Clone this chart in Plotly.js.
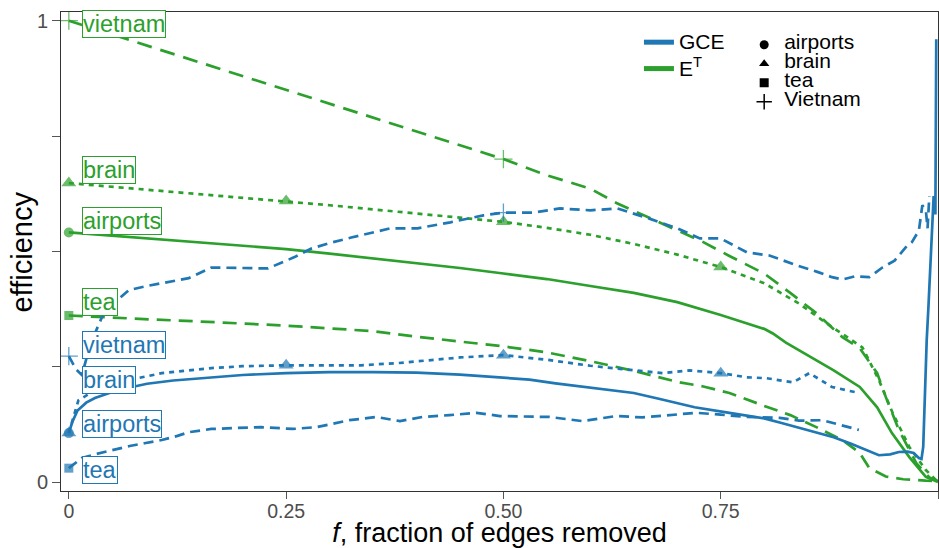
<!DOCTYPE html>
<html><head><meta charset="utf-8">
<script src="https://cdn.plot.ly/plotly-3.0.1.min.js"></script>
<style>html,body{margin:0;padding:0;background:#fff}#chart{width:939px;height:548px}</style>
</head><body><div id="chart"></div>
<script>
// ---------- data ----------
const networks = ['airports', 'brain', 'tea', 'vietnam'];
const labelNames = {airports: 'airports', brain: 'brain', tea: 'tea', vietnam: 'vietnam'};
const legendShapeNames = ['airports', 'brain', 'tea', 'Vietnam'];

// E^T (green)
const etAirportsX = [0, 0.05, 0.1, 0.15, 0.2, 0.25, 0.3, 0.35, 0.4, 0.45, 0.5, 0.55, 0.6, 0.65, 0.7, 0.75, 0.8, 0.81, 0.825, 0.84, 0.88, 0.91, 0.93, 0.947, 0.967, 0.986, 1];
const etAirportsY = [0.541, 0.534, 0.527, 0.52, 0.512, 0.505, 0.495, 0.485, 0.475, 0.464, 0.452, 0.44, 0.425, 0.41, 0.39, 0.362, 0.332, 0.322, 0.302, 0.286, 0.242, 0.206, 0.162, 0.106, 0.054, 0.011, 0.0];

const etBrainX = [0, 0.05, 0.1, 0.15, 0.2, 0.25, 0.3, 0.35, 0.4, 0.45, 0.5, 0.55, 0.6, 0.65, 0.7, 0.75, 0.8, 0.84, 0.878, 0.913, 0.932, 0.948, 0.967, 0.986, 1];
const etBrainY = [0.648, 0.640, 0.632, 0.624, 0.617, 0.609, 0.600, 0.591, 0.582, 0.573, 0.564, 0.551, 0.536, 0.516, 0.493, 0.466, 0.431, 0.387, 0.336, 0.292, 0.221, 0.149, 0.076, 0.026, 0.0];

const etTeaX = [0, 0.05, 0.1, 0.15, 0.2, 0.25, 0.3, 0.35, 0.4, 0.45, 0.5, 0.55, 0.6, 0.65, 0.7, 0.73, 0.76, 0.8, 0.83, 0.86, 0.89, 0.91, 0.921, 0.94, 0.96, 0.986, 1];
const etTeaY = [0.361, 0.356, 0.352, 0.348, 0.344, 0.339, 0.333, 0.327, 0.315, 0.305, 0.294, 0.281, 0.262, 0.241, 0.217, 0.207, 0.193, 0.165, 0.145, 0.119, 0.091, 0.063, 0.03, 0.012, 0.006, 0.003, 0.002];

const etVietnamX = [0, 0.05, 0.1, 0.15, 0.2, 0.25, 0.3, 0.35, 0.4, 0.45, 0.5, 0.55, 0.6, 0.63, 0.66, 0.7, 0.73, 0.76, 0.8, 0.83, 0.86, 0.89, 0.91, 0.93, 0.94, 0.955, 0.975, 0.99, 1];
const etVietnamY = [1.0, 0.97, 0.94, 0.91, 0.88, 0.85, 0.82, 0.79, 0.76, 0.73, 0.70, 0.665, 0.636, 0.605, 0.58, 0.545, 0.52, 0.49, 0.452, 0.41, 0.366, 0.314, 0.29, 0.236, 0.184, 0.113, 0.041, 0.01, 0.002];

// GCE (blue)
const gceAirportsX = [0, 0.004, 0.01, 0.02, 0.03, 0.05, 0.07, 0.09, 0.12, 0.15, 0.2, 0.25, 0.3, 0.35, 0.4, 0.45, 0.5, 0.53, 0.56, 0.59, 0.62, 0.65, 0.68, 0.72, 0.76, 0.8, 0.82, 0.85, 0.88, 0.9, 0.917, 0.932, 0.945, 0.955, 0.965, 0.972, 0.978, 0.981, 0.983, 0.985, 0.987, 0.989, 0.991, 0.993, 0.995, 0.997, 0.998];
const gceAirportsY = [0.106, 0.13, 0.155, 0.172, 0.182, 0.195, 0.205, 0.213, 0.22, 0.225, 0.232, 0.236, 0.238, 0.238, 0.237, 0.233, 0.227, 0.222, 0.214, 0.207, 0.2, 0.193, 0.18, 0.162, 0.15, 0.138, 0.128, 0.113, 0.097, 0.083, 0.069, 0.058, 0.06, 0.065, 0.066, 0.063, 0.052, 0.05, 0.076, 0.221, 0.307, 0.38, 0.47, 0.54, 0.62, 0.58, 0.96];

const gceBrainX = [0, 0.011, 0.03, 0.05, 0.069, 0.107, 0.164, 0.2, 0.25, 0.3, 0.336, 0.38, 0.413, 0.45, 0.5, 0.55, 0.6, 0.626, 0.683, 0.714, 0.75, 0.78, 0.803, 0.833, 0.852, 0.878, 0.909];
const gceBrainY = [0.106, 0.177, 0.199, 0.21, 0.221, 0.236, 0.247, 0.251, 0.253, 0.253, 0.253, 0.258, 0.264, 0.27, 0.275, 0.265, 0.252, 0.247, 0.236, 0.242, 0.236, 0.227, 0.225, 0.216, 0.236, 0.206, 0.193];

const gceTeaX = [0, 0.015, 0.03, 0.049, 0.07, 0.087, 0.107, 0.125, 0.138, 0.164, 0.19, 0.221, 0.258, 0.285, 0.323, 0.354, 0.381, 0.407, 0.438, 0.469, 0.496, 0.553, 0.591, 0.63, 0.66, 0.687, 0.722, 0.75, 0.78, 0.818, 0.84, 0.867, 0.89, 0.909];
const gceTeaY = [0.030, 0.052, 0.06, 0.069, 0.078, 0.084, 0.091, 0.1, 0.108, 0.115, 0.117, 0.119, 0.115, 0.119, 0.134, 0.141, 0.132, 0.141, 0.145, 0.15, 0.143, 0.141, 0.132, 0.143, 0.14, 0.145, 0.15, 0.146, 0.141, 0.139, 0.133, 0.134, 0.122, 0.113];

const gceVietnamX = [0, 0.008, 0.015, 0.025, 0.03, 0.038, 0.05, 0.069, 0.09, 0.107, 0.138, 0.164, 0.202, 0.229, 0.259, 0.279, 0.298, 0.325, 0.37, 0.401, 0.439, 0.477, 0.5, 0.535, 0.565, 0.6, 0.631, 0.668, 0.7, 0.726, 0.75, 0.78, 0.806, 0.837, 0.862, 0.878, 0.89, 0.905, 0.921, 0.936, 0.95, 0.963, 0.97, 0.978, 0.982, 0.986, 0.988, 0.99];
const gceVietnamY = [0.273, 0.245, 0.232, 0.3, 0.322, 0.357, 0.385, 0.416, 0.425, 0.431, 0.442, 0.465, 0.463, 0.463, 0.487, 0.506, 0.517, 0.530, 0.550, 0.550, 0.563, 0.578, 0.584, 0.584, 0.593, 0.589, 0.593, 0.571, 0.55, 0.528, 0.528, 0.498, 0.491, 0.470, 0.455, 0.444, 0.439, 0.446, 0.444, 0.465, 0.48, 0.509, 0.52, 0.545, 0.6, 0.589, 0.55, 0.62];

// x positions where each network carries its shape marker
const markerAt = {airports: [0], brain: [0, 0.25, 0.5, 0.75], tea: [0], vietnam: [0, 0.5]};

// ---------- styles ----------
const BLUE = '#1f77b4', GREEN = '#2ca02c';
const FONT = 'Liberation Sans, Arial, sans-serif';
const symbolOf = {airports: 'circle', brain: 'triangle-up', tea: 'square', vietnam: 'cross-thin-open'};
const sizeOf = {airports: 10, brain: 13, tea: 9, vietnam: 13};
const dashOf = {
  et: {airports: 'solid', brain: '5px,5px', tea: '14px,8px', vietnam: '15px,9px'},
  gce: {airports: 'solid', brain: '5px,5px', tea: '10px,6px', vietnam: '10px,6px'}
};

const series = {
  et: {airports: [etAirportsX, etAirportsY], brain: [etBrainX, etBrainY], tea: [etTeaX, etTeaY], vietnam: [etVietnamX, etVietnamY]},
  gce: {airports: [gceAirportsX, gceAirportsY], brain: [gceBrainX, gceBrainY], tea: [gceTeaX, gceTeaY], vietnam: [gceVietnamX, gceVietnamY]}
};

const traces = [];
['et', 'gce'].forEach(m => {
  const color = m === 'et' ? GREEN : BLUE;
  networks.forEach(n => {
    const [x, y] = series[m][n];
    const sizes = x.map(v => markerAt[n].includes(v) ? sizeOf[n] : 0);
    traces.push({
      type: 'scatter', mode: 'lines+markers', x: x, y: y, showlegend: false, hoverinfo: 'skip',
      line: {color: color, width: 2.7, dash: dashOf[m][n]},
      marker: {color: color, size: sizes, symbol: symbolOf[n], line: {color: color, width: n === 'vietnam' ? 1.3 : 0}}
    });
  });
});

// legend entries (colour)
traces.push({type: 'scatter', mode: 'lines', x: [null], y: [null], name: '<span style="font-size:21px">GCE</span>',
  line: {color: BLUE, width: 5}, legend: 'legend', showlegend: true});
traces.push({type: 'scatter', mode: 'lines', x: [null], y: [null], name: '<span style="font-size:21px">E<sup>T</sup></span>',
  line: {color: GREEN, width: 5}, legend: 'legend', showlegend: true});
// legend entries (shape)
networks.forEach((n, i) => {
  traces.push({type: 'scatter', mode: 'markers', x: [null], y: [null],
    name: '<span style="font-size:21px">' + legendShapeNames[i] + '</span>',
    marker: {color: 'black', symbol: symbolOf[n], size: n === 'vietnam' ? 11 : 9, line: {color: 'black', width: n === 'vietnam' ? 1.5 : 0}},
    legend: 'legend2', showlegend: true});
});

// text labels at the left
const labelY = {
  et: {vietnam: 0.992, brain: 0.677, airports: 0.566, tea: 0.390},
  gce: {vietnam: 0.297, brain: 0.221, airports: 0.125, tea: 0.026}
};
const annotations = [];
['et', 'gce'].forEach(m => {
  const color = m === 'et' ? GREEN : BLUE;
  networks.forEach(n => {
    annotations.push({
      x: 0.015, y: labelY[m][n], xref: 'x', yref: 'y', xanchor: 'left', yanchor: 'middle',
      text: labelNames[n], showarrow: false, font: {size: 23.5, color: color, family: FONT},
      bgcolor: 'white', bordercolor: color, borderwidth: 1, borderpad: 0
    });
  });
});
// y axis title
annotations.push({
  x: -0.0445, y: 0.5, xref: 'paper', yref: 'paper', xanchor: 'center', yanchor: 'middle',
  text: 'efficiency', textangle: -90, showarrow: false, font: {size: 29, color: 'black', family: FONT}
});

const layout = {
  width: 939, height: 548,
  margin: {l: 61, r: 1, t: 12, b: 57},
  paper_bgcolor: 'white', plot_bgcolor: 'white',
  font: {family: FONT, color: 'black'},
  xaxis: {
    range: [-0.009, 1.0], tickvals: [0, 0.25, 0.5, 0.75, 1], ticktext: ['0', '0.25', '0.50', '0.75', ''],
    ticks: 'outside', ticklen: 7, tickcolor: '#555', tickwidth: 1, ticklabelstandoff: -4,
    tickfont: {size: 19.5, color: '#4d4d4d'},
    showline: true, linecolor: '#333', linewidth: 1, mirror: true, showgrid: false, zeroline: false,
    title: {text: '<i>f</i>, fraction of edges removed', font: {size: 27, color: 'black'}, standoff: 2}
  },
  yaxis: {
    range: [-0.0195, 1.0189], tickvals: [0, 0.25, 0.5, 0.75, 1], ticktext: ['0', '', '', '', '1'],
    ticks: 'outside', ticklen: 8, tickcolor: '#555', tickwidth: 1,
    tickfont: {size: 20, color: '#4d4d4d'},
    showline: true, linecolor: '#333', linewidth: 1, mirror: true, showgrid: false, zeroline: false
  },
  legend: {x: 0.659, y: 0.975, xanchor: 'left', yanchor: 'top', font: {size: 18, color: 'black'}, bgcolor: 'rgba(0,0,0,0)', tracegroupgap: 0},
  legend2: {x: 0.779, y: 0.962, xanchor: 'left', yanchor: 'top', font: {size: 11, color: 'black'}, bgcolor: 'rgba(0,0,0,0)', tracegroupgap: 0},
  annotations: annotations,
  showlegend: true
};

Plotly.newPlot('chart', traces, layout, {displayModeBar: false, staticPlot: true});
</script>
</body></html>
